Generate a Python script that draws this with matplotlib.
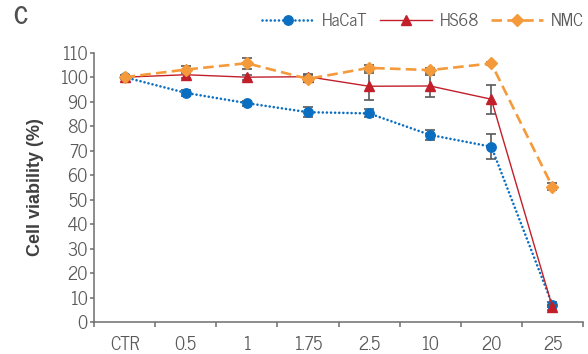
import matplotlib
matplotlib.use("Agg")
import matplotlib.pyplot as plt
from matplotlib import font_manager

categories = ["CTR", "0.5", "1", "1.75", "2.5", "10", "20", "25"]
hacat = [100, 93.6, 89.4, 85.7, 85.2, 76.4, 71.6, 7.0]
hacat_err = [0.5, 1.2, 1.0, 2.0, 1.6, 2.2, 5.2, 1.0]
hs68 = [100, 101.0, 100.0, 100.2, 96.3, 96.4, 91.0, 6.0]
hs68_err = [0.5, 1.4, 1.0, 1.0, 5.6, 4.5, 6.0, 1.0]
nmc = [100, 103.1, 105.7, 99.3, 103.8, 102.9, 105.6, 55.2]
nmc_err = [0.8, 1.5, 2.3, 1.4, 1.2, 1.0, 0.8, 1.4]
series_names = ["HaCaT", "HS68", "NMC"]

avail = {f.name for f in font_manager.fontManager.ttflist}
main_font = next((f for f in ["News Cycle", "Archivo Narrow", "Roboto Condensed"] if f in avail), "DejaVu Sans")
plt.rcParams['font.family'] = [main_font, 'DejaVu Sans']

GRAY = "#595959"
BLUE = "#0B6FC1"
RED = "#C21F2B"
ORANGE = "#F49A3A"

fig = plt.figure(figsize=(5.88, 3.54), dpi=100)
ax = fig.add_axes([94/588, 1-322/354, (583-94)/588, (322-52.7)/354])

x = list(range(len(categories)))

specs = [
    (hacat, hacat_err, BLUE, dict(marker='o', markersize=6.8, linewidth=1.9,
                                   linestyle=(0, (0.01, 1.55)), dash_capstyle='round')),
    (hs68, hs68_err, RED, dict(marker='^', markersize=7.8, linewidth=1.0, linestyle='-')),
    (nmc, nmc_err, ORANGE, dict(marker='D', markersize=5.8, linewidth=1.9,
                                 linestyle=(0, (4, 2)))),
]
handles = []
for i, (vals, errs, col, kw) in enumerate(specs):
    ax.errorbar(x, vals, yerr=errs, fmt='none', ecolor=GRAY, elinewidth=1.2,
                capsize=3.8, capthick=1.2, zorder=2 + i * 2)
    h, = ax.plot(x, vals, color=col, markerfacecolor=col, markeredgecolor=col,
                 zorder=3 + i * 2, label=series_names[i], **kw)
    handles.append(h)

ax.set_xlim(-0.5, len(categories) - 0.5)
ax.set_ylim(0, 110)
ax.set_yticks(range(0, 111, 10))
ax.set_xticks(x)
ax.set_xticklabels(categories)
ax.set_xticks([i + 0.5 for i in range(-1, len(categories))], minor=True)

for s in ['top', 'right']:
    ax.spines[s].set_visible(False)
for s in ['left', 'bottom']:
    ax.spines[s].set_color("#6e6e6e")
    ax.spines[s].set_linewidth(1.1)

ax.tick_params(axis='x', which='major', length=0, pad=10, labelsize=13, labelcolor=GRAY)
ax.tick_params(axis='x', which='minor', length=3.5, width=1.1, color="#6e6e6e", direction='out')
ax.tick_params(axis='y', which='major', length=3, width=1.1, color="#6e6e6e", pad=1.5,
               labelsize=13, labelcolor=GRAY)

fig.text(35/588, 1-187/354, "Cell viability (%)", rotation=90, ha='center', va='center',
         fontsize=13, fontweight='bold', color="#404040",
         family=['Liberation Sans', 'DejaVu Sans'])
fig.text(13/588, 1-18/354, "C", ha='left', va='center', fontsize=17.5, fontweight='bold',
         color="#505050")

leg = fig.legend(handles=handles, loc='center right', bbox_to_anchor=(584/588, 1-21/354),
                 ncol=3, frameon=False, borderpad=0, borderaxespad=0, handlelength=3.0,
                 handletextpad=0.45, columnspacing=0.7, fontsize=12.5)
for t in leg.get_texts():
    t.set_color(GRAY)

fig.savefig("out.png", dpi=100)
